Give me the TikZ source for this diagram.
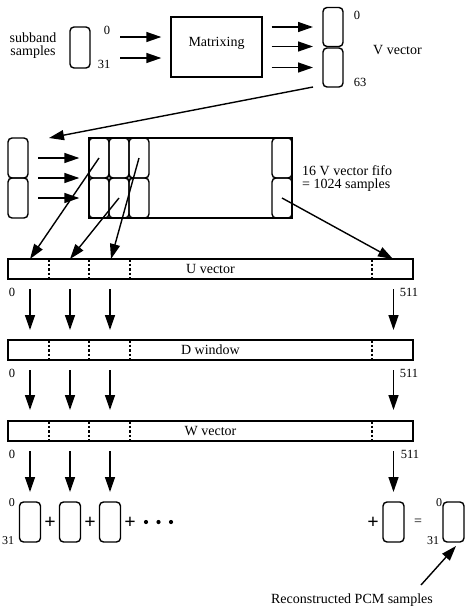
\documentclass[tikz,border=0pt]{standalone}
\usepackage{fontspec}
\setmainfont{Liberation Serif}
\usetikzlibrary{arrows.meta,calc}
\begin{document}
\begin{tikzpicture}[x=1pt,y=-1pt,
  lw/.style={line width=1.4pt},
  cell/.style={draw,lw,rounded corners=4pt,minimum width=20pt,minimum height=40pt,inner sep=0pt,outer sep=0pt},
  bar/.style={draw,lw,minimum width=405pt,minimum height=20pt,inner sep=0pt,outer sep=0pt,font=\fontsize{14}{16}\selectfont},
  sep/.style={line width=1.1pt,dash pattern=on 2.5pt off 2pt},
  arr/.style={line width=1.4pt,-{Triangle[length=15pt,width=10pt]}},
  txt/.style={inner sep=0pt,font=\fontsize{14}{16}\selectfont},
  idx/.style={inner sep=0pt,font=\fontsize{12.5}{14}\selectfont},
  sidx/.style={inner sep=0pt,font=\fontsize{12}{14}\selectfont},
  plus/.style={inner sep=0pt,font=\fontsize{20}{20}\selectfont\bfseries}
]
\useasboundingbox (0,0) rectangle (474,608);
\fill[white] (0,0) rectangle (474,608);

% --- top row
\node[txt,align=center] (sublab) at (33,45.5) {subband\\[-3pt]samples};
\node[cell,minimum height=41pt] (sub) at (80,47.5) {};
\node[idx] (s0) at (107,30) {0};
\node[idx] (s31) at (104,64) {31};
\node[draw,lw,minimum width=91pt,minimum height=60pt,inner sep=0pt] (mat) at (216.5,47) {};
\node[txt] (matlab) at (216.5,43) {Matrixing};
\node[cell,minimum height=39pt] (v0) at (333,27) {};
\node[cell,minimum height=39pt] (v1) at (333,67.5) {};
\node[idx] (v0lab) at (357,15) {0};
\node[idx] (v63lab) at (360,82) {63};
\node[txt] (vlab) at (397.5,50) {V vector};

\draw[arr] ($(sub.east)+(30,-10.5)$) -- ($(mat.west)+(-9,-10)$);
\draw[arr] ($(sub.east)+(30,10.5)$) -- ($(mat.west)+(-9,11)$);
\draw[arr] ([xshift=9pt]mat.east |- v0.west) -- ([xshift=-10pt]v0.west);
\draw[arr] ([xshift=9pt]mat.east |- v0.south west) -- ([xshift=-10pt]v0.south west);
\draw[arr] ([xshift=9pt]mat.east |- v1.west) -- ([xshift=-10pt]v1.west);

% --- second row
\node[cell] (lv0) at (18,158) {};
\node[cell] (lv1) at (18,198) {};
\coordinate (lvin) at ([xshift=21pt]lv0.north east);
\draw[arr] ([xshift=-10pt]v1.south west) -- (lvin);

\node[draw,lw,minimum width=203pt,minimum height=80pt,inner sep=0pt] (fifo) at (190.5,178) {};
\node[cell] (c1a) at (99,158) {};
\node[cell] (c1b) at (99,198) {};
\node[cell] (c2a) at (119,158) {};
\node[cell] (c2b) at (119,198) {};
\node[cell] (c3a) at (139,158) {};
\node[cell] (c3b) at (139,198) {};
\node[cell] (cna) at (282,158) {};
\node[cell] (cnb) at (282,198) {};
\draw[line width=0.9pt,fill=white] (c1a.south east) circle (1.7pt);
\draw[line width=0.9pt,fill=white] (c2a.south east) circle (1.7pt);
\node[txt,align=left,anchor=west] (fifolab) at (302,178.5) {16 V vector fifo\\[-3pt]= 1024 samples};

\draw[arr] ([xshift=30pt]lv0.west) -- ([xshift=-9pt]fifo.west |- lv0.west);
\draw[arr] ([xshift=30pt]lv0.south west) -- ([xshift=-9pt]fifo.west |- lv0.south);
\draw[arr] ([xshift=30pt]lv1.west) -- ([xshift=-9pt]fifo.west |- lv1.west);

% --- bars
\node[bar] (U) at (210.5,269) {U vector};
\node[bar] (D) at (210.5,350) {D window};
\node[bar] (W) at (210.5,431) {W vector};
\foreach \b in {U,D,W}{
  \foreach \xx in {41,81,122,364}{
    \draw[sep] ([xshift=\xx pt]\b.north west) -- ([xshift=\xx pt]\b.south west);
  }
}
\node[idx] (u0) at (12,292) {0};
\node[idx] (u511) at (409,292) {511};
\node[idx] (d0) at (12,373) {0};
\node[idx] (d511) at (409,373) {511};
\node[idx] (w0) at (12,454) {0};
\node[idx] (w511) at (410,454) {511};

\draw[arr] (c1a.center) -- ([xshift=22pt]U.north west);
\draw[arr] (c2b.center) -- ([xshift=62pt]U.north west);
\draw[arr] (c3a.center) -- ([xshift=103pt]U.north west);
\draw[arr] (cnb.center) -- ([xshift=385pt]U.north west);

% --- bottom row
\node[cell,minimum width=21pt] (b1) at (30,522) {};
\node[cell,minimum width=21pt] (b2) at (70,522) {};
\node[cell,minimum width=21pt] (b3) at (110,522) {};
\node[cell,minimum width=21pt] (b4) at (393.5,522) {};
\node[cell,minimum width=21pt] (out) at (453.5,522) {};
\foreach \n in {b1,b2,b3,b4}{
  \draw[arr] ([yshift=-10pt]\n.north |- U.south) -- ([yshift=10pt]\n.north |- D.north);
  \draw[arr] ([yshift=-10pt]\n.north |- D.south) -- ([yshift=11pt]\n.north |- W.north);
  \draw[arr] ([yshift=-10pt]\n.north |- W.south) -- ([yshift=10pt]\n.north);
}
\node[plus] (p1) at (50,523) {+};
\node[plus] (p2) at (90,523) {+};
\node[plus] (p3) at (130,523) {+};
\node[plus] (p4) at (373,523) {+};
\foreach \xx in {146,158.5,171}{\fill (\xx,522) circle (2.1pt);}
\node[txt] (eq) at (418,522) {=};
\node[sidx] (b10) at (12,503) {0};
\node[sidx] (b131) at (8,541) {31};
\node[sidx] (o0) at (439,503) {0};
\node[sidx] (o31) at (433,541) {31};
\node[txt] (pcm) at (352,600) {Reconstructed PCM samples};
\coordinate (pcmarr) at (421,585);
\draw[arr] (pcmarr) -- ([xshift=2.5pt,yshift=-4pt]out.south);
\end{tikzpicture}
\end{document}
